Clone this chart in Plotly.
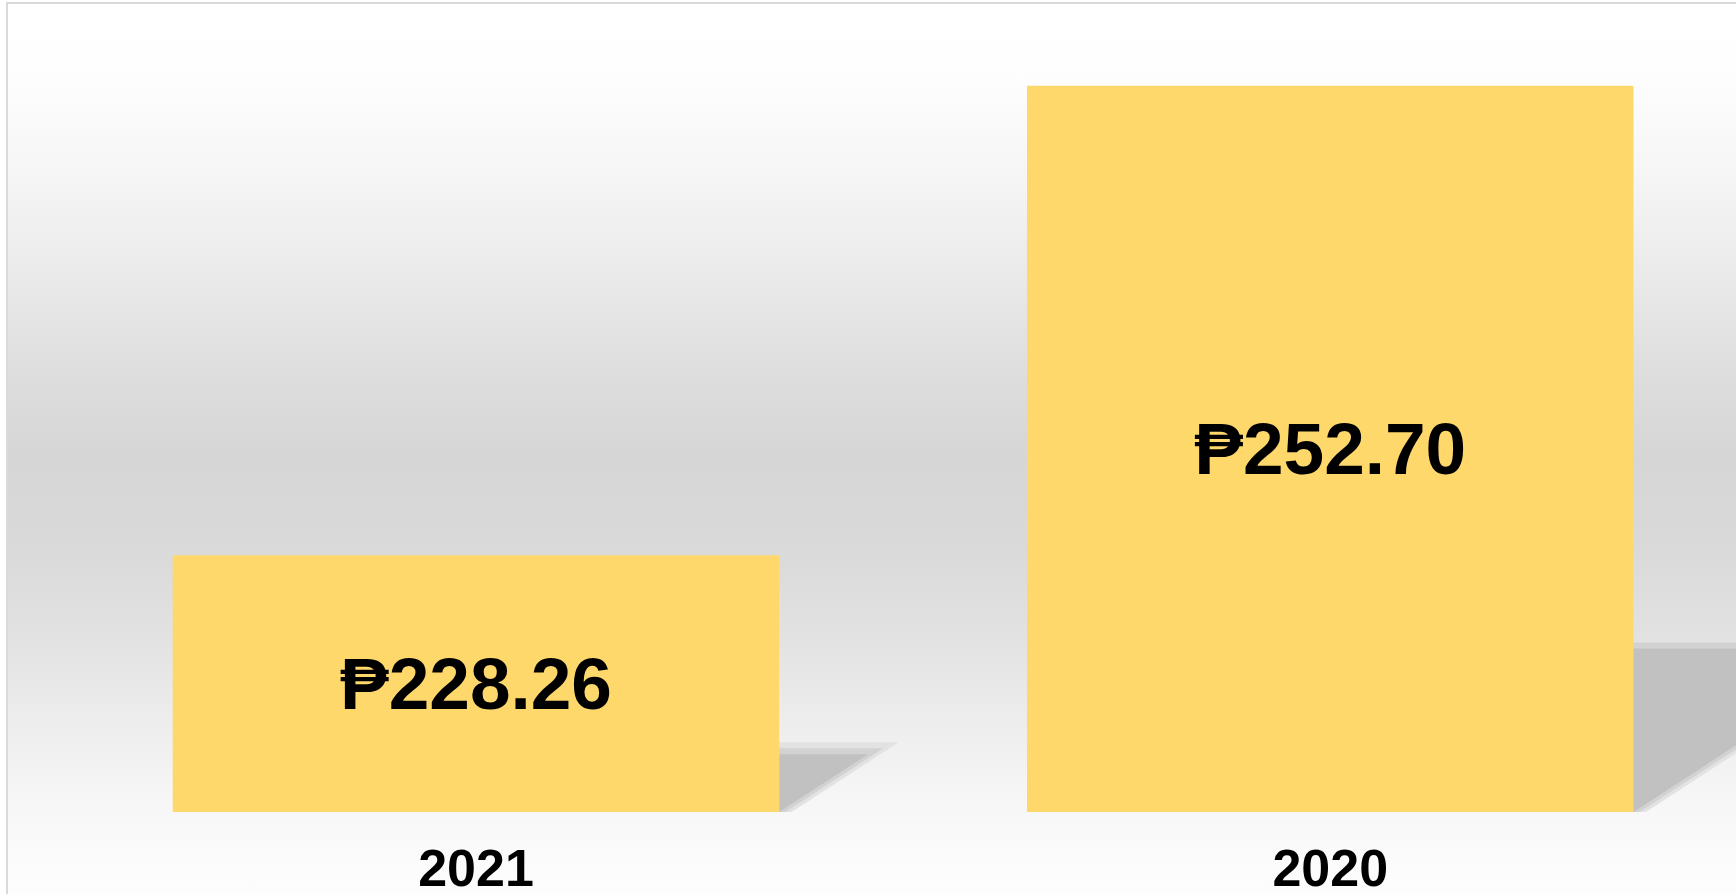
import base64

import plotly.graph_objects as go

# data
years = ["2021", "2020"]
amounts = [228.26, 252.70]
labels = [f"₱{v:,.2f}" for v in amounts]

BAR_COLOR = "#FED86B"
Y_MIN = 214.9
Y_MAX = 257.0
X_RANGE = [-0.549, 1.475]
BAR_W = 0.71
SHADOW_RATIO = 0.225
SHADOW_SKEW = 0.0346  # x units per y unit of shadow height
PX_Y = 19.21  # pixels per y unit, used for the fixed-width soft bands


def _gradient_uri() -> str:
    stops = [(3, 255), (70, 254), (171, 246), (285, 233), (370, 222), (455, 214),
             (541, 217), (626, 225), (712, 236), (797, 246), (854, 251), (894, 253)]
    st = "".join(
        f'<stop offset="{(y - 3) / 891:.4f}" stop-color="rgb({c},{c},{c})"/>' for y, c in stops
    )
    svg = (
        '<svg xmlns="http://www.w3.org/2000/svg" width="100" height="891" preserveAspectRatio="none">'
        f'<defs><linearGradient id="g" x1="0" y1="0" x2="0" y2="1">{st}</linearGradient></defs>'
        '<rect width="100" height="891" fill="url(#g)"/></svg>'
    )
    return "data:image/svg+xml;base64," + base64.b64encode(svg.encode()).decode()


def _shadow_shapes() -> list:
    shapes = []
    bands = [(12, "#e2e2e2"), (6, "#d2d2d2"), (0, "#c1c1c1")]
    for i, v in enumerate(amounts):
        xl, xr = i - BAR_W / 2, i + BAR_W / 2
        h_core = SHADOW_RATIO * (v - Y_MIN)
        for extra_px, col in bands:
            h = h_core + extra_px / PX_Y
            off = SHADOW_SKEW * h + extra_px * 0.0012
            top = Y_MIN + h
            path = (f"M {xl},{Y_MIN} L {xr + extra_px * 0.0012},{Y_MIN} "
                    f"L {xr + off},{top} L {xl + off},{top} Z")
            shapes.append(dict(type="path", path=path, xref="x", yref="y",
                               fillcolor=col, line=dict(width=0), layer="below"))
    return shapes


# bars start at the axis floor so the inside labels sit in the visible part
fig = go.Figure(
    go.Bar(
        x=list(range(len(years))),
        y=[v - Y_MIN for v in amounts],
        base=Y_MIN,
        width=BAR_W,
        marker=dict(color=BAR_COLOR, line=dict(width=0)),
        text=labels,
        textposition="inside",
        insidetextanchor="middle",
        textangle=0,
        constraintext="none",
        textfont=dict(family="Arial, Liberation Sans, DejaVu Sans", size=73, color="#000000", weight="bold"),
        hoverinfo="skip",
    )
)

H_PLOT = 809
fig.update_layout(
    width=1736,
    height=894,
    margin=dict(l=7, r=0, t=3, b=82, pad=0, autoexpand=False),
    paper_bgcolor="#ffffff",
    plot_bgcolor="rgba(0,0,0,0)",
    showlegend=False,
    images=[dict(source=_gradient_uri(), xref="paper", yref="paper", x=0, y=1,
                 sizex=1, sizey=891 / H_PLOT, sizing="stretch", xanchor="left",
                 yanchor="top", layer="below")],
    shapes=_shadow_shapes() + [
        dict(type="rect", xref="paper", yref="paper", x0=0, x1=1.5, y0=-0.5, y1=1,
             line=dict(color="#d9d9d9", width=2), fillcolor="rgba(0,0,0,0)", layer="above")
    ],
    xaxis=dict(
        type="linear",
        range=X_RANGE,
        tickmode="array",
        tickvals=list(range(len(years))),
        ticktext=years,
        tickfont=dict(family="Arial, Liberation Sans", size=52, color="#000000", weight="bold"),
        showgrid=False,
        zeroline=False,
        showline=False,
        ticks="",
        ticklabelstandoff=21,
        automargin=False,
        fixedrange=True,
    ),
    yaxis=dict(
        range=[Y_MIN, Y_MAX],
        visible=False,
        showgrid=False,
        zeroline=False,
        automargin=False,
        fixedrange=True,
    ),
)

fig.write_html(
    "out.html",
    config=dict(displayModeBar=False),
    post_script="document.body.style.margin='0px';document.body.style.overflow='hidden';",
)
